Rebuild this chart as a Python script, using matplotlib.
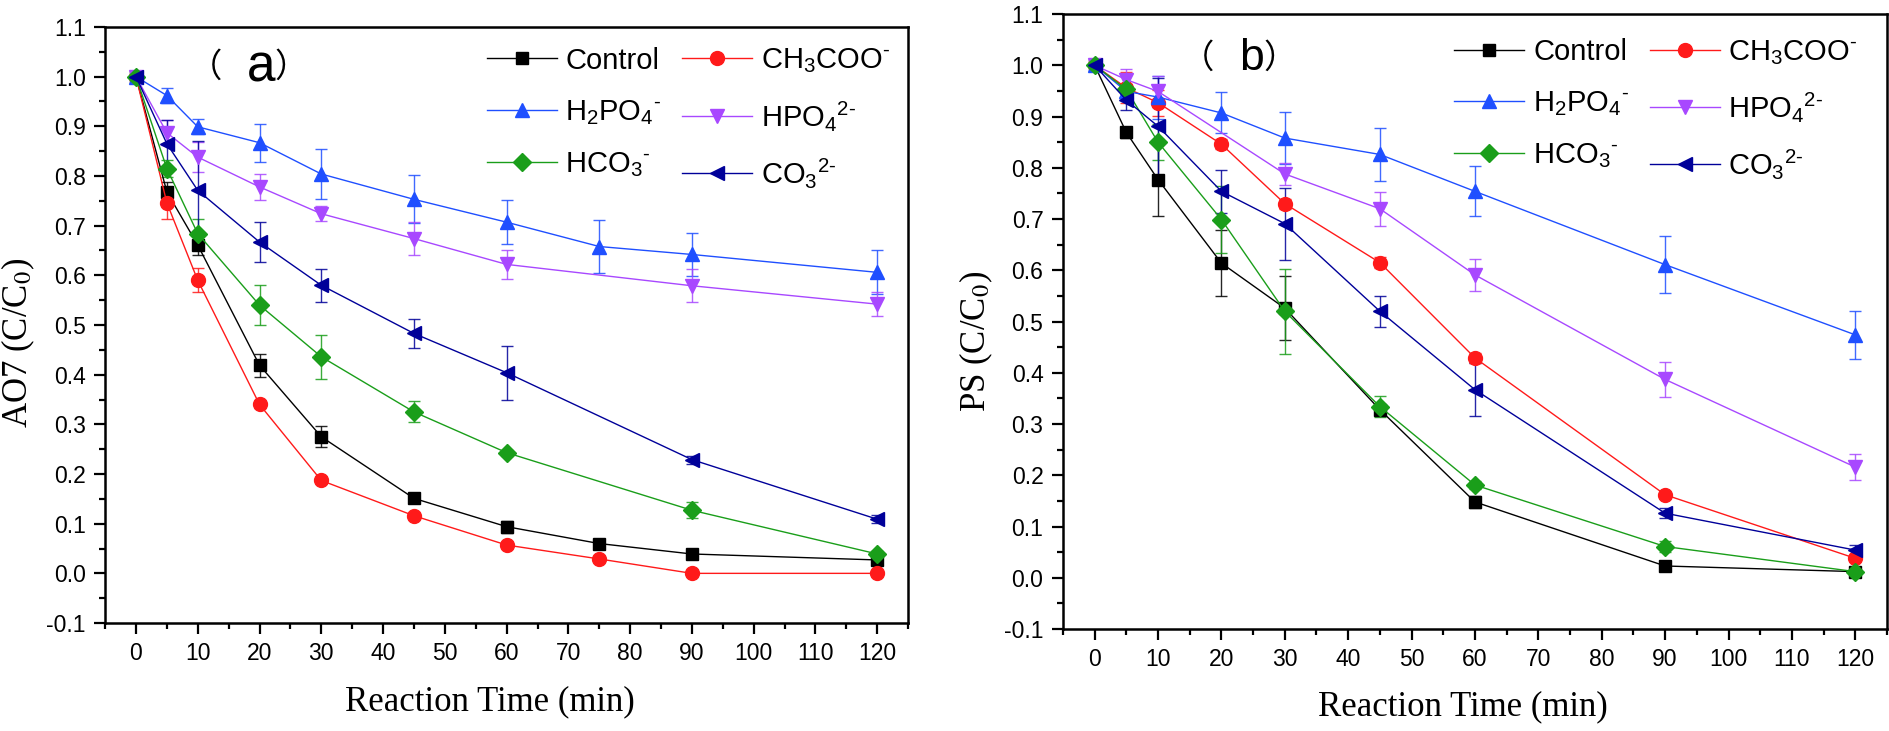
import matplotlib
matplotlib.use("Agg")
import matplotlib.pyplot as plt
from matplotlib.ticker import MultipleLocator

plt.rcParams['font.family'] = ['Liberation Sans', 'DejaVu Sans']
plt.rcParams['mathtext.fontset'] = 'custom'
plt.rcParams['mathtext.rm'] = 'Liberation Sans'
plt.rcParams['mathtext.it'] = 'Liberation Sans:italic'
plt.rcParams['mathtext.bf'] = 'Liberation Sans:bold'

# ---------------- data ----------------
series_names = ['Control', r'CH$_3$COO$^{\text{-}}$', r'H$_2$PO$_4$$^{\text{-}}$',
                r'HPO$_4$$^{\text{2-}}$', r'HCO$_3$$^{\text{-}}$', r'CO$_3$$^{\text{2-}}$']
colors = ['#000000', '#ff1a1a', '#1f4fff', '#a848ff', '#1a9e1a', '#000099']
markers = ['s', 'o', '^', 'v', 'D', '<']
msizes = [9, 10, 10.5, 10.5, 9, 10.5]

x_ticks = [0, 10, 20, 30, 40, 50, 60, 70, 80, 90, 100, 110, 120]
y_ticks = [-0.1, 0.0, 0.1, 0.2, 0.3, 0.4, 0.5, 0.6, 0.7, 0.8, 0.9, 1.0, 1.1]

# Panel (a): AO7
t_a_long = [0, 5, 10, 20, 30, 45, 60, 75, 90, 120]
t_a_short = [0, 5, 10, 20, 30, 45, 60, 90, 120]
a_control = [1.0, 0.768, 0.661, 0.419, 0.275, 0.151, 0.094, 0.060, 0.039, 0.027]
a_control_err = [0.005, 0.02, 0.02, 0.023, 0.021, 0.006, 0.012, 0.006, 0.005, 0.005]
a_ch3coo = [1.0, 0.746, 0.590, 0.340, 0.187, 0.116, 0.057, 0.029, 0.0, 0.0]
a_ch3coo_err = [0.005, 0.032, 0.024, 0.008, 0.006, 0.005, 0.005, 0.005, 0.004, 0.004]
a_h2po4 = [1.0, 0.962, 0.899, 0.867, 0.804, 0.753, 0.707, 0.658, 0.642, 0.606]
a_h2po4_err = [0.005, 0.015, 0.015, 0.038, 0.05, 0.048, 0.044, 0.053, 0.044, 0.044]
a_hpo4 = [1.0, 0.887, 0.838, 0.778, 0.724, 0.674, 0.622, 0.579, 0.542]
a_hpo4_err = [0.005, 0.025, 0.03, 0.026, 0.015, 0.034, 0.03, 0.033, 0.024]
a_hco3 = [1.0, 0.815, 0.684, 0.540, 0.436, 0.325, 0.243, 0.127, 0.039]
a_hco3_err = [0.005, 0.017, 0.03, 0.04, 0.044, 0.021, 0.006, 0.016, 0.006]
a_co3 = [1.0, 0.865, 0.771, 0.667, 0.580, 0.483, 0.404, 0.229, 0.109]
a_co3_err = [0.005, 0.047, 0.1, 0.04, 0.033, 0.03, 0.054, 0.008, 0.008]

# Panel (b): PS
t_b = [0, 5, 10, 20, 30, 45, 60, 90, 120]
t_b_hpo4 = [0, 5, 10, 30, 45, 60, 90, 120]
b_control = [1.0, 0.869, 0.777, 0.614, 0.526, 0.328, 0.148, 0.023, 0.012]
b_control_err = [0.005, 0.01, 0.072, 0.064, 0.062, 0.01, 0.012, 0.006, 0.006]
b_ch3coo = [1.0, 0.956, 0.927, 0.846, 0.730, 0.615, 0.429, 0.162, 0.038]
b_ch3coo_err = [0.005, 0.03, 0.025, 0.01, 0.01, 0.01, 0.01, 0.006, 0.006]
b_h2po4 = [1.0, 0.949, 0.938, 0.907, 0.858, 0.826, 0.754, 0.611, 0.474]
b_h2po4_err = [0.005, 0.012, 0.042, 0.04, 0.051, 0.052, 0.049, 0.055, 0.047]
b_hpo4 = [1.0, 0.972, 0.949, 0.788, 0.720, 0.591, 0.387, 0.216]
b_hpo4_err = [0.005, 0.02, 0.03, 0.022, 0.033, 0.031, 0.034, 0.025]
b_hco3 = [1.0, 0.953, 0.850, 0.699, 0.520, 0.334, 0.181, 0.061, 0.012]
b_hco3_err = [0.005, 0.01, 0.035, 0.065, 0.083, 0.02, 0.008, 0.01, 0.006]
b_co3 = [1.0, 0.932, 0.881, 0.754, 0.691, 0.520, 0.367, 0.126, 0.054]
b_co3_err = [0.005, 0.02, 0.095, 0.042, 0.07, 0.03, 0.052, 0.01, 0.01]

panel_a = [(t_a_long, a_control, a_control_err), (t_a_long, a_ch3coo, a_ch3coo_err),
           (t_a_long, a_h2po4, a_h2po4_err), (t_a_short, a_hpo4, a_hpo4_err),
           (t_a_short, a_hco3, a_hco3_err), (t_a_short, a_co3, a_co3_err)]
panel_b = [(t_b, b_control, b_control_err), (t_b, b_ch3coo, b_ch3coo_err),
           (t_b, b_h2po4, b_h2po4_err), (t_b_hpo4, b_hpo4, b_hpo4_err),
           (t_b, b_hco3, b_hco3_err), (t_b, b_co3, b_co3_err)]

# ---------------- figure ----------------
fig = plt.figure(figsize=(18.9, 7.31), dpi=100)
ax_a = fig.add_axes([0.0556, 0.1477, 0.4249, 0.8154])
ax_b = fig.add_axes([0.5624, 0.1395, 0.4360, 0.8413])


def draw_panel(ax, data, ylabel, letter, letter_pos, letter_size, leg_top):
    handles = []
    for (t, y, e), c, m, ms, name in zip(data, colors, markers, msizes, series_names):
        ax.errorbar(t, y, yerr=e, fmt='none', ecolor=c, elinewidth=1.0,
                    capsize=4.5, capthick=1.0, zorder=2, alpha=0.85)
        h, = ax.plot(t, y, color=c, marker=m, markersize=ms, linewidth=1.0,
                     markeredgecolor=c, markerfacecolor=c, label=name, zorder=3)
        handles.append(h)
    ax.set_xlim(-5, 125)
    ax.set_ylim(-0.1, 1.1)
    ax.set_xticks(x_ticks)
    ax.set_yticks(y_ticks)
    ax.set_yticklabels(['%.1f' % v for v in y_ticks])
    ax.xaxis.set_minor_locator(MultipleLocator(5))
    ax.yaxis.set_minor_locator(MultipleLocator(0.05))
    ax.tick_params(which='major', direction='out', length=8, width=1.6,
                   labelsize=16.5, pad=6)
    ax.tick_params(which='minor', direction='out', length=4.5, width=1.6)
    ax.tick_params(top=False, right=False, which='both')
    for s in ax.spines.values():
        s.set_linewidth(1.8)
    ax.set_xlabel('Reaction Time (min)', fontsize=25,
                  family=['Liberation Serif'], math_fontfamily='stix')
    ax.set_ylabel(ylabel, fontsize=25,
                  family=['Liberation Serif'], math_fontfamily='stix')
    order = [0, 2, 4, 1, 3, 5]
    ax.legend([handles[i] for i in order], [series_names[i] for i in order],
              ncol=2, frameon=False, fontsize=21, loc='upper left',
              bbox_to_anchor=(0.475, leg_top), borderpad=0, borderaxespad=0,
              handlelength=2.4, handletextpad=0.3, columnspacing=0.7,
              labelspacing=0.8)
    px, lx, rx, y = letter_pos
    ax.text(px, y, '（', transform=ax.transAxes, fontsize=24, ha='center',
            va='center', family=['Noto Sans CJK SC', 'DejaVu Sans'])
    ax.text(lx, y, letter, transform=ax.transAxes, fontsize=letter_size,
            ha='center', va='center')
    ax.text(rx, y, '）', transform=ax.transAxes, fontsize=24, ha='center',
            va='center', family=['Noto Sans CJK SC', 'DejaVu Sans'])


draw_panel(ax_a, panel_a, r'AO7 (C/C$_0$)', 'a',
           (0.1255, 0.194, 0.2315, 0.932), 37, 0.967)
draw_panel(ax_b, panel_b, r'PS (C/C$_0$)', 'b',
           (0.1639, 0.229, 0.2631, 0.928), 32, 0.961)

ax_a.xaxis.set_label_coords(0.479, -0.104)
ax_b.xaxis.set_label_coords(0.485, -0.099)
ax_a.yaxis.set_label_coords(-0.085, 0.47)
ax_b.yaxis.set_label_coords(-0.083, 0.467)

fig.savefig('out.png', dpi=100)
